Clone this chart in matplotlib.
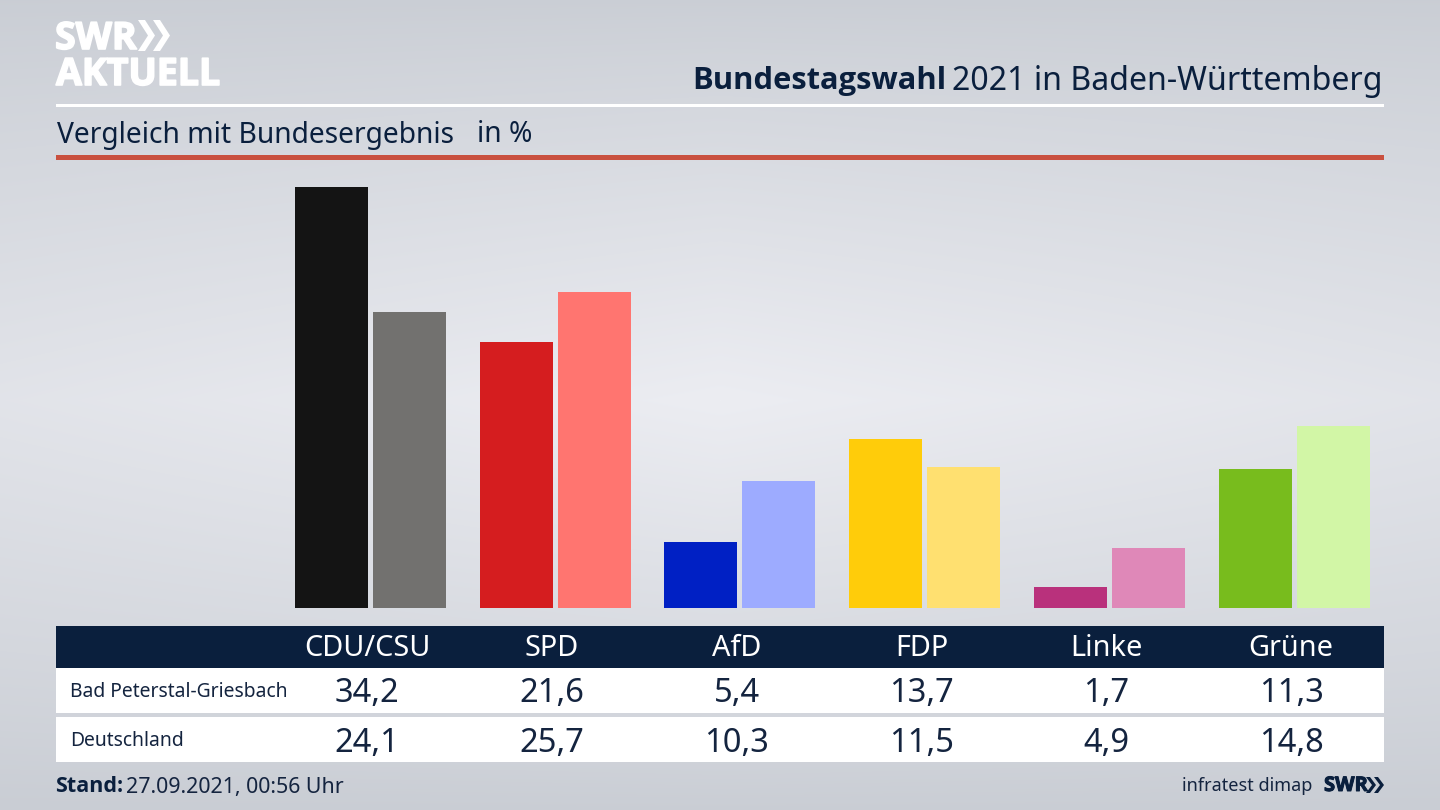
import numpy as np
import matplotlib
matplotlib.use('Agg')
import matplotlib.pyplot as plt
import matplotlib.patheffects as pe
from matplotlib.patches import Rectangle, Polygon

parties = ['CDU/CSU', 'SPD', 'AfD', 'FDP', 'Linke', 'Grüne']
local_name = 'Bad Peterstal-Griesbach'
national_name = 'Deutschland'
local_values = [34.2, 21.6, 5.4, 13.7, 1.7, 11.3]
national_values = [24.1, 25.7, 10.3, 11.5, 4.9, 14.8]
local_colors = ['#141414', '#d51d1f', '#0020c4', '#ffcc0a', '#b9317c', '#78bc1d']
national_colors = ['#72716f', '#ff7570', '#9dabff', '#ffe070', '#df88b8', '#d2f6a6']

NAVY = '#0a1f3d'
TEXT = '#14243f'
plt.rcParams['font.family'] = 'Noto Sans'

W, H = 1440, 810
fig = plt.figure(figsize=(W / 100, H / 100), dpi=100)

# overlay in pixel coordinates for background, header and table
bg = fig.add_axes([0, 0, 1, 1])
bg.set_xlim(0, W)
bg.set_ylim(H, 0)
bg.axis('off')

# background gradient, light band in the middle
yy, xx = np.mgrid[0:H, 0:W]
vert = 1 - np.abs(yy - 400) / 420
horiz = 1 - np.abs(xx - 720) / 720
shade = np.clip(vert ** 0.85 * (0.72 + 0.28 * horiz), 0, 1)
c_dark = np.array([200, 204, 211]) / 255
c_light = np.array([236, 237, 242]) / 255
img = c_dark + (c_light - c_dark) * shade[..., None]
bg.imshow(img, extent=(0, W, H, 0), aspect='auto', zorder=0)


def chevrons(xs, top, bottom, arm, depth, color):
    mid = (top + bottom) / 2
    for x0 in xs:
        bg.add_patch(Polygon([(x0, top), (x0 + arm, top), (x0 + arm + depth, mid), (x0 + arm, bottom),
                              (x0, bottom), (x0 + depth, mid)], color=color, lw=0, zorder=3))


# logo
thick = [pe.withStroke(linewidth=1.2, foreground='white')]
bg.text(55, 39, 'SWR', color='white', fontsize=27, fontweight='bold', va='center', ha='left',
        fontfamily='Open Sans', zorder=3, path_effects=thick)
chevrons([138, 153], 20, 51, 7, 10, 'white')
bg.text(56, 75, 'AKTUELL', color='white', fontsize=27, fontweight='bold', va='center', ha='left',
        fontfamily='Open Sans', zorder=3, path_effects=thick)

# header
bg.text(692, 81, 'Bundestagswahl', color=NAVY, fontsize=22.2, fontweight='bold', va='center', ha='left',
        fontfamily='Open Sans', zorder=3)
bg.text(1383, 81, '2021 in Baden-Württemberg', color=NAVY, fontsize=23.1, va='center', ha='right', zorder=3)
bg.add_patch(Rectangle((56, 104), 1328, 3, color='white', lw=0, zorder=3))
bg.text(57, 135, 'Vergleich mit Bundesergebnis', color=NAVY, fontsize=20.3, va='center', ha='left', zorder=3)
bg.text(477, 135, 'in %', color=NAVY, fontsize=20.3, va='center', ha='left', zorder=3)
bg.add_patch(Rectangle((56, 155), 1328, 5, color='#c9503f', lw=0, zorder=3))

# table
bg.add_patch(Rectangle((56, 626), 1328, 42, color=NAVY, lw=0, zorder=2))
bg.add_patch(Rectangle((56, 668), 1328, 45, color='white', lw=0, zorder=2))
bg.add_patch(Rectangle((56, 717), 1328, 45, color='white', lw=0, zorder=2))
label_x = [367 + 184.8 * i for i in range(len(parties))]
for i, p in enumerate(parties):
    bg.text(label_x[i], 649, p, color='white', fontsize=20.8, va='center', ha='center', zorder=3)
    bg.text(label_x[i], 694, f'{local_values[i]:.1f}'.replace('.', ','), color=TEXT, fontsize=23.5,
            va='center', ha='center', zorder=3)
    bg.text(label_x[i], 743, f'{national_values[i]:.1f}'.replace('.', ','), color=TEXT, fontsize=23.5,
            va='center', ha='center', zorder=3)
bg.text(70, 692, local_name, color=TEXT, fontsize=13.9, va='center', ha='left', zorder=3)
bg.text(70, 741, national_name, color=TEXT, fontsize=13.9, va='center', ha='left', zorder=3)

# footer
bg.text(55, 787, 'Stand:', color=NAVY, fontsize=15.5, fontweight='bold', va='center', ha='left',
        fontfamily='Open Sans', zorder=3)
bg.text(126, 787, '27.09.2021, 00:56 Uhr', color=TEXT, fontsize=15.4, va='center', ha='left', zorder=3)
bg.text(1312, 786, 'infratest dimap', color=TEXT, fontsize=13, va='center', ha='right', zorder=3)
bg.text(1324, 786, 'SWR', color=NAVY, fontsize=14.5, fontweight='bold', va='center', ha='left',
        fontfamily='Open Sans', zorder=3, path_effects=[pe.withStroke(linewidth=0.7, foreground=NAVY)])
chevrons([1366, 1374], 777, 793, 4, 6, NAVY)

# bars: plot area spans x 56..1384, y 160..608 px, 12.3 px per percent
ax = fig.add_axes([56 / W, 1 - 608 / H, 1328 / W, 448 / H])
ax.patch.set_alpha(0)
ax.axis('off')
px_per_group = 184.8
ax.set_xlim((56 - 370.2) / px_per_group, (1384 - 370.2) / px_per_group)
ax.set_ylim(0, 448 / 12.3)
x = np.arange(len(parties))
bar_w = 73 / px_per_group
offset = 39 / px_per_group
ax.bar(x - offset, local_values, width=bar_w, color=local_colors, linewidth=0)
ax.bar(x + offset, national_values, width=bar_w, color=national_colors, linewidth=0)

fig.savefig('out.png', dpi=100)
